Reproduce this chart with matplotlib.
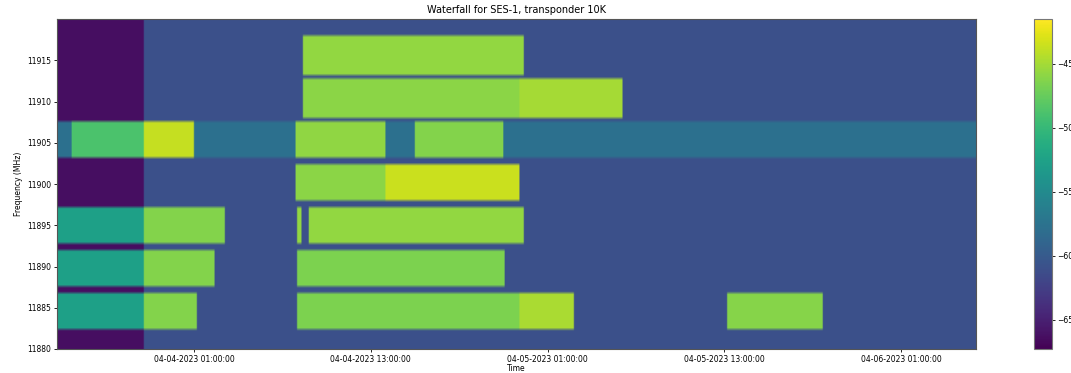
import numpy as np
import matplotlib.pyplot as plt
import matplotlib.dates as mdates

# capture window
t_start = np.datetime64('2023-04-03T15:42')
t_end = np.datetime64('2023-04-06T06:05')
t_floor_change = np.datetime64('2023-04-03T21:32')  # noise floor steps up here

floor_early = -66.3  # dB
floor_late = -61.0
floor_11905 = -57.8  # the 11905 channel sits on a higher floor all the time

channel_names = ['11915', '11910', '11905', '11900', '11895', '11890', '11885']
channel_centers = [11915.65, 11910.45, 11905.35, 11900.15, 11895.0, 11889.85, 11884.65]
channel_width = 4.6

# carrier on-times: channel, start, end, level (dB)
seg_channel = ['11905', '11905', '11905', '11905',
               '11895', '11895', '11895', '11895',
               '11890', '11890', '11890',
               '11885', '11885', '11885', '11885', '11885',
               '11915',
               '11910', '11910',
               '11900', '11900']
seg_start = ['2023-04-03T16:39', '2023-04-03T21:32', '2023-04-04T07:51', '2023-04-04T15:56',
             '2023-04-03T15:42', '2023-04-03T21:32', '2023-04-04T07:59', '2023-04-04T08:44',
             '2023-04-03T15:42', '2023-04-03T21:32', '2023-04-04T07:59',
             '2023-04-03T15:42', '2023-04-03T21:32', '2023-04-04T07:59', '2023-04-04T23:04', '2023-04-05T13:07',
             '2023-04-04T08:20',
             '2023-04-04T08:20', '2023-04-04T23:04',
             '2023-04-04T07:51', '2023-04-04T13:58']
seg_end = ['2023-04-03T21:32', '2023-04-04T01:00', '2023-04-04T13:58', '2023-04-04T21:59',
           '2023-04-03T21:32', '2023-04-04T03:02', '2023-04-04T08:16', '2023-04-04T23:20',
           '2023-04-03T21:32', '2023-04-04T02:22', '2023-04-04T22:03',
           '2023-04-03T21:32', '2023-04-04T01:12', '2023-04-04T23:04', '2023-04-05T02:44', '2023-04-05T19:42',
           '2023-04-04T23:20',
           '2023-04-04T23:04', '2023-04-05T06:04',
           '2023-04-04T13:58', '2023-04-04T23:04']
seg_level = [-48.8, -43.8, -45.8, -46.3,
             -52.6, -46.3, -45.7, -45.7,
             -52.6, -46.3, -46.6,
             -52.6, -46.3, -46.6, -44.8, -46.2,
             -45.7,
             -46.0, -45.0,
             -46.0, -43.6]

# build the waterfall grid
times = np.arange(t_start, t_end, np.timedelta64(6, 'm'))
freqs = np.arange(11880.2, 11920, 0.4)
Z = np.empty((len(freqs), len(times)))
Z[:, :] = np.where(times < t_floor_change, floor_early, floor_late)[None, :]

centers = dict(zip(channel_names, channel_centers))
Z[np.abs(freqs - centers['11905']) < channel_width / 2, :] = floor_11905

for ch, s, e, lvl in zip(seg_channel, seg_start, seg_end, seg_level):
    rows = np.abs(freqs - centers[ch]) < channel_width / 2
    cols = (times >= np.datetime64(s)) & (times < np.datetime64(e))
    Z[np.ix_(rows, cols)] = lvl

fig = plt.figure(figsize=(10.71, 3.73), dpi=100)
ax = fig.add_axes([57 / 1071, 24 / 373, 919 / 1071, 330 / 373])
cax = fig.add_axes([1034 / 1071, 24 / 373, 18 / 1071, 330 / 373])

x0 = mdates.date2num(t_start.astype('datetime64[s]').astype(object))
x1 = mdates.date2num(t_end.astype('datetime64[s]').astype(object))
im = ax.imshow(Z, origin='lower', aspect='auto', cmap='viridis',
               extent=[x0, x1, 11880, 11920], vmin=-67.3, vmax=-41.5,
               interpolation='bilinear')
ax.xaxis_date()
ax.xaxis.set_major_locator(mdates.HourLocator(byhour=[1, 13]))
ax.xaxis.set_major_formatter(mdates.DateFormatter('%m-%d-%Y %H:%M:%S'))
ax.set_yticks(np.arange(11880, 11916, 5))
ax.tick_params(labelsize=5.5, length=2.5, width=0.6, pad=1.5)
ax.set_xlabel('Time', fontsize=5.5, labelpad=0.5)
ax.set_ylabel('Frequency (MHz)', fontsize=5.5, labelpad=3)
ax.set_title('Waterfall for SES-1, transponder 10K', fontsize=7, pad=4)
for sp in ax.spines.values():
    sp.set_color('#555555')

cb = fig.colorbar(im, cax=cax)
cb.ax.tick_params(labelsize=5.5, length=2.5, width=0.6, pad=1.5)
cb.outline.set_edgecolor('#777777')

fig.savefig('out.png', dpi=100)
